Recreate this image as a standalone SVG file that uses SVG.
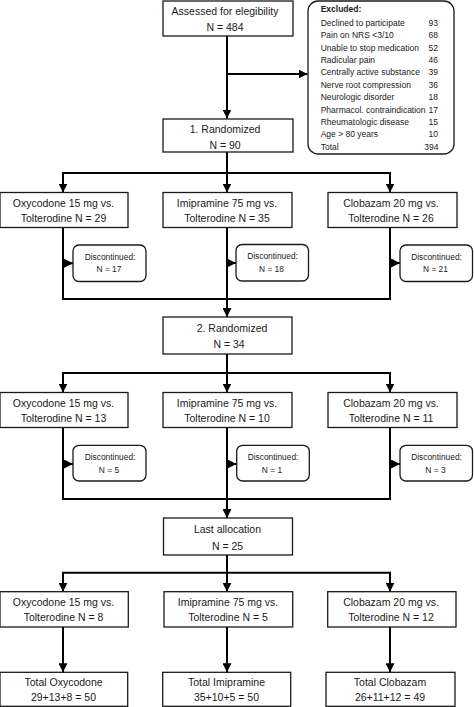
<svg xmlns="http://www.w3.org/2000/svg" width="474" height="707" viewBox="0 0 474 707">
<style>
.box{fill:#fff;stroke:#1a1a1a;stroke-width:1.3}
.rbox{fill:#fff;stroke:#1a1a1a;stroke-width:1.3}
.t{font-family:"Liberation Sans",Arial,sans-serif;font-size:10.5px;fill:#1a1a1a;text-anchor:middle}
.s{font-family:"Liberation Sans",Arial,sans-serif;font-size:8.4px;fill:#1a1a1a;text-anchor:middle}
.e{font-family:"Liberation Sans",Arial,sans-serif;font-size:8.5px;fill:#1a1a1a}
.n{text-anchor:end}
.c{fill:none;stroke:#000;stroke-width:2}
</style>
<defs>
<marker id="ah" markerUnits="userSpaceOnUse" markerWidth="9" markerHeight="9" viewBox="0 0 9 9" refX="9" refY="4.5" orient="auto">
<path d="M0,0 L9,4.5 L0,9 Z" fill="#000"/>
</marker>
</defs>
<rect width="474" height="707" fill="#fff"/>

<g id="connectors">
<line class="c" x1="227" y1="36" x2="227" y2="118.5" marker-end="url(#ah)"/>
<line class="c" x1="227" y1="74" x2="307.5" y2="74" marker-end="url(#ah)"/>
<polyline class="c" points="227,152 227,173"/>
<polyline class="c" points="63,192 63,173 390,173 390,192"/>
<line class="c" x1="63" y1="173" x2="63" y2="192.5" marker-end="url(#ah)"/>
<line class="c" x1="227" y1="173" x2="227" y2="192.5" marker-end="url(#ah)"/>
<line class="c" x1="390" y1="173" x2="390" y2="192.5" marker-end="url(#ah)"/>
<polyline class="c" points="63,227.5 63,299 390,299 390,227.5"/>
<line class="c" x1="227" y1="227.5" x2="227" y2="317" marker-end="url(#ah)"/>
<line class="c" x1="63" y1="263.3" x2="73" y2="263.3" marker-end="url(#ah)"/>
<line class="c" x1="227" y1="263" x2="236" y2="263" marker-end="url(#ah)"/>
<line class="c" x1="390" y1="263" x2="400" y2="263" marker-end="url(#ah)"/>

<polyline class="c" points="227,354 227,373"/>
<polyline class="c" points="63,392 63,373 390,373 390,392"/>
<line class="c" x1="63" y1="373" x2="63" y2="392.5" marker-end="url(#ah)"/>
<line class="c" x1="227" y1="373" x2="227" y2="392.5" marker-end="url(#ah)"/>
<line class="c" x1="390" y1="373" x2="390" y2="392.5" marker-end="url(#ah)"/>
<polyline class="c" points="63,427.5 63,499 390,499 390,427.5"/>
<line class="c" x1="227" y1="427.5" x2="227" y2="518" marker-end="url(#ah)"/>
<line class="c" x1="63" y1="464" x2="73" y2="464" marker-end="url(#ah)"/>
<line class="c" x1="227" y1="464" x2="236.5" y2="464" marker-end="url(#ah)"/>
<line class="c" x1="390" y1="464" x2="400" y2="464" marker-end="url(#ah)"/>

<polyline class="c" points="227,555 227,572.7"/>
<polyline class="c" points="63,591 63,572.7 390,572.7 390,591"/>
<line class="c" x1="63" y1="572.7" x2="63" y2="591.7" marker-end="url(#ah)"/>
<line class="c" x1="227" y1="572.7" x2="227" y2="591.7" marker-end="url(#ah)"/>
<line class="c" x1="390" y1="572.7" x2="390" y2="591.7" marker-end="url(#ah)"/>
<line class="c" x1="63" y1="627" x2="63" y2="672.3" marker-end="url(#ah)"/>
<line class="c" x1="227" y1="627" x2="227" y2="672.3" marker-end="url(#ah)"/>
<line class="c" x1="390" y1="627" x2="390" y2="672.3" marker-end="url(#ah)"/>
</g>

<g id="assessed">
<rect class="box" x="163" y="1" width="130" height="35"/>
<text class="t" x="225" y="15">Assessed for elegibility</text>
<text class="t" x="225" y="30.5">N = 484</text>
</g>

<g id="excluded">
<rect class="rbox" x="308" y="1" width="146" height="153" rx="10"/>
<text class="e" x="320.7" y="12" font-weight="bold">Excluded:</text>
<text class="e" x="320.7" y="25.8">Declined to participate</text><text class="e n" x="438" y="25.8">93</text>
<text class="e" x="320.7" y="38.2">Pain on NRS &lt;3/10</text><text class="e n" x="438" y="38.2">68</text>
<text class="e" x="320.7" y="50.6">Unable to stop medication</text><text class="e n" x="438" y="50.6">52</text>
<text class="e" x="320.7" y="63">Radicular pain</text><text class="e n" x="438" y="63">46</text>
<text class="e" x="320.7" y="75.4">Centrally active substance</text><text class="e n" x="438" y="75.4">39</text>
<text class="e" x="320.7" y="87.8">Nerve root compression</text><text class="e n" x="438" y="87.8">36</text>
<text class="e" x="320.7" y="100.2">Neurologic disorder</text><text class="e n" x="438" y="100.2">18</text>
<text class="e" x="320.7" y="112.6">Pharmacol. contraindication</text><text class="e n" x="438" y="112.6">17</text>
<text class="e" x="320.7" y="125">Rheumatologic disease</text><text class="e n" x="438" y="125">15</text>
<text class="e" x="320.7" y="137.4">Age &gt; 80 years</text><text class="e n" x="438" y="137.4">10</text>
<text class="e" x="320.7" y="149.8">Total</text><text class="e n" x="438.5" y="149.8">394</text>
</g>

<g id="randomized1">
<rect class="box" x="163" y="119" width="130" height="33"/>
<text class="t" x="225" y="132.5">1. Randomized</text>
<text class="t" x="225" y="148.5">N = 90</text>
</g>

<g id="oxy1">
<rect class="box" x="0" y="192.5" width="128" height="35"/>
<text class="t" x="63.5" y="207">Oxycodone 15 mg vs.</text>
<text class="t" x="63.5" y="222">Tolterodine N = 29</text>
</g>
<g id="imi1">
<rect class="box" x="163" y="192.5" width="129" height="35"/>
<text class="t" x="227" y="207">Imipramine 75 mg vs.</text>
<text class="t" x="227" y="222">Tolterodine N = 35</text>
</g>
<g id="clo1">
<rect class="box" x="328" y="192.5" width="129" height="35"/>
<text class="t" x="391" y="207">Clobazam 20 mg vs.</text>
<text class="t" x="391" y="222">Tolterodine N = 26</text>
</g>

<g id="disc1a">
<rect class="rbox" x="73" y="245" width="73" height="36.5" rx="6"/>
<text class="s" x="110" y="259.7">Discontinued:</text>
<text class="s" x="109" y="272.3">N = 17</text>
</g>
<g id="disc1b">
<rect class="rbox" x="236" y="244.5" width="72.5" height="36.5" rx="6"/>
<text class="s" x="272.5" y="259.2">Discontinued:</text>
<text class="s" x="271.5" y="271.8">N = 18</text>
</g>
<g id="disc1c">
<rect class="rbox" x="400" y="245" width="72.5" height="36.5" rx="6"/>
<text class="s" x="436.5" y="259.7">Discontinued:</text>
<text class="s" x="435.5" y="272.3">N = 21</text>
</g>

<g id="randomized2">
<rect class="box" x="163" y="317" width="129" height="37"/>
<text class="t" x="232" y="332">2. Randomized</text>
<text class="t" x="229" y="348">N = 34</text>
</g>

<g id="oxy2">
<rect class="box" x="0" y="392.5" width="128" height="35"/>
<text class="t" x="63.5" y="407">Oxycodone 15 mg vs.</text>
<text class="t" x="63.5" y="422">Tolterodine N = 13</text>
</g>
<g id="imi2">
<rect class="box" x="163" y="392.5" width="129" height="35"/>
<text class="t" x="227" y="407">Imipramine 75 mg vs.</text>
<text class="t" x="227" y="422">Tolterodine N = 10</text>
</g>
<g id="clo2">
<rect class="box" x="328" y="392.5" width="129" height="35"/>
<text class="t" x="391" y="407">Clobazam 20 mg vs.</text>
<text class="t" x="391" y="422">Tolterodine N = 11</text>
</g>

<g id="disc2a">
<rect class="rbox" x="73" y="445.3" width="73" height="35.7" rx="6"/>
<text class="s" x="110" y="460.3">Discontinued:</text>
<text class="s" x="109" y="472.5">N = 5</text>
</g>
<g id="disc2b">
<rect class="rbox" x="236.7" y="445.3" width="72.6" height="35.7" rx="6"/>
<text class="s" x="273" y="460.3">Discontinued:</text>
<text class="s" x="272" y="472.5">N = 1</text>
</g>
<g id="disc2c">
<rect class="rbox" x="400" y="445.3" width="72.5" height="35.7" rx="6"/>
<text class="s" x="436.5" y="460.3">Discontinued:</text>
<text class="s" x="435.5" y="472.5">N = 3</text>
</g>

<g id="last">
<rect class="box" x="163.5" y="518" width="129" height="37"/>
<text class="t" x="227.5" y="533">Last allocation</text>
<text class="t" x="227.5" y="549.5">N = 25</text>
</g>

<g id="oxy3">
<rect class="box" x="0" y="591.7" width="128.3" height="35.3"/>
<text class="t" x="63.5" y="605.5">Oxycodone 15 mg vs.</text>
<text class="t" x="63.5" y="621">Tolterodine N = 8</text>
</g>
<g id="imi3">
<rect class="box" x="164" y="591.7" width="128.7" height="35.3"/>
<text class="t" x="228" y="605.5">Imipramine 75 mg vs.</text>
<text class="t" x="228" y="621">Tolterodine N = 5</text>
</g>
<g id="clo3">
<rect class="box" x="327.7" y="591.7" width="128.3" height="35.3"/>
<text class="t" x="391" y="605.5">Clobazam 20 mg vs.</text>
<text class="t" x="391" y="621">Tolterodine N = 12</text>
</g>

<g id="totalOxy">
<rect class="box" x="0" y="672.3" width="127.7" height="34"/>
<text class="t" x="63.5" y="685.5">Total Oxycodone</text>
<text class="t" x="63.5" y="700.5">29+13+8 = 50</text>
</g>
<g id="totalImi">
<rect class="box" x="162.7" y="672.3" width="128" height="34"/>
<text class="t" x="226.5" y="685.5">Total Imipramine</text>
<text class="t" x="226.5" y="700.5">35+10+5 = 50</text>
</g>
<g id="totalClo">
<rect class="box" x="326" y="672.3" width="129" height="34"/>
<text class="t" x="390" y="685.5">Total Clobazam</text>
<text class="t" x="390" y="700.5">26+11+12 = 49</text>
</g>
</svg>
